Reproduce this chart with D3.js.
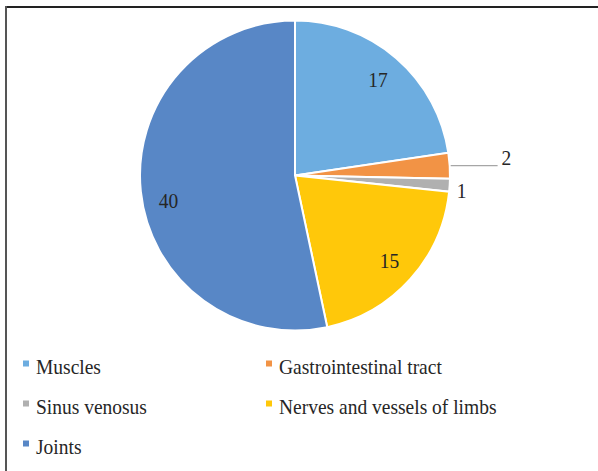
<!DOCTYPE html>
<html><head><meta charset="utf-8">
<script src="https://cdn.jsdelivr.net/npm/d3@7"></script>
<style>body{margin:0;background:#fff}svg{display:block}</style>
</head><body>
<script>
const categories = ["Muscles","Gastrointestinal tract","Sinus venosus","Nerves and vessels of limbs","Joints"];
const values = [17,2,1,15,40];
const colors = ["#6DADE0","#F29345","#B0B0B0","#FFC80A","#5887C6"];

const W=598,H=471;
const svg=d3.select("body").append("svg").attr("width",W).attr("height",H);
// border (top and left)
svg.append("line").attr("x1",6).attr("x2",598).attr("y1",7).attr("y2",7).attr("stroke","#222").attr("stroke-width",2);
svg.append("line").attr("x1",6).attr("x2",6).attr("y1",6).attr("y2",471).attr("stroke","#555").attr("stroke-width",2);

const cx=295,cy=175.5,r=155;
const data=categories.map((c,i)=>({c,v:values[i],col:colors[i]}));
const pie=d3.pie().value(d=>d.v).sort(null);
const arcs=pie(data);
const arc=d3.arc().innerRadius(0).outerRadius(r);
const g=svg.append("g").attr("transform",`translate(${cx},${cy})`);
g.selectAll("path").data(arcs).join("path").attr("d",arc).attr("fill",d=>d.data.col).attr("stroke","#fff").attr("stroke-width",2);

const font="'Liberation Serif','Times New Roman',serif";
function txt(parent,x,y,s,anchor){
  parent.append("text").attr("transform",`translate(${x},${y}) scale(1,1.09)`)
    .attr("dy","0.35em").attr("text-anchor",anchor||"middle")
    .attr("font-family",font).attr("font-size",19.5).attr("fill","#262626").text(s);
}
const inArc=d3.arc().innerRadius(r*0.82).outerRadius(r*0.82);
arcs.forEach(a=>{
  const mid=(a.startAngle+a.endAngle)/2;
  let x,y;
  if(a.data.v>=5){
    [x,y]=inArc.centroid(a);
    if(a.data.v>=30){ y+=12; }
    txt(g,x,y,a.data.v);
  } else if(a.data.v>=2){
    const px=Math.sin(mid)*(r+1), py=-Math.cos(mid)*(r+1);
    const lx=Math.sin(mid)*(r+45);
    g.append("line").attr("x1",px).attr("y1",py).attr("x2",lx+3).attr("y2",py).attr("stroke","#A6A6A6").attr("stroke-width",1.2);
    txt(g,lx+7,py-8,a.data.v,"start");
  } else {
    x=Math.sin(mid)*(r+12); y=-Math.cos(mid)*(r+12)+5;
    txt(g,x,y,a.data.v);
  }
});

// legend
const lg=svg.append("g");
data.forEach((d,i)=>{
  const col=i%2,row=Math.floor(i/2);
  const x=col?266:23, y=366.5+row*40;
  lg.append("rect").attr("x",x).attr("y",y-6).attr("width",6).attr("height",6).attr("fill",d.col);
  txt(lg,x+13,y,d.c,"start");
});
</script>
</body></html>
